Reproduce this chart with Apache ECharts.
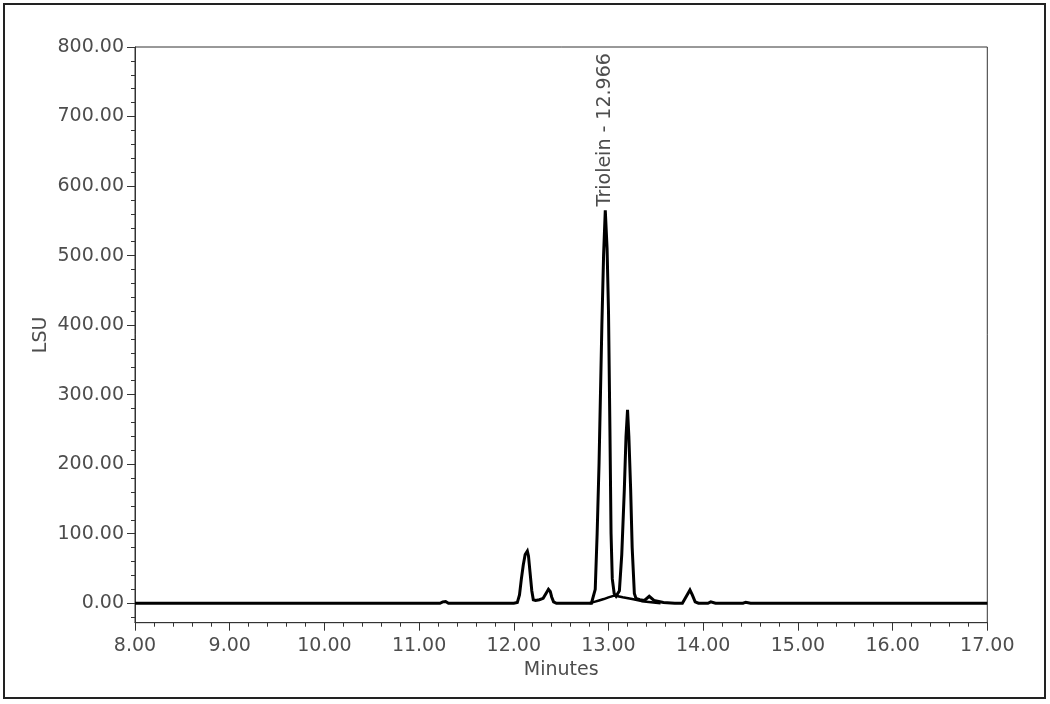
<!DOCTYPE html>
<html>
<head>
<meta charset="utf-8">
<title>Chromatogram</title>
<script src="https://cdn.jsdelivr.net/npm/echarts@6/dist/echarts.min.js"></script>
<style>
  html, body { margin: 0; padding: 0; background: #fff; }
  #chart { width: 1050px; height: 704px; }
</style>
</head>
<body>
<div id="chart"></div>
<script>
// detector trace (minutes / LSU)
var minutes = [
  8.00, 11.22, 11.25, 11.28, 11.31, 12.00, 12.037, 12.06, 12.08, 12.10, 12.12, 12.143,
  12.155, 12.171, 12.19, 12.206, 12.23, 12.27, 12.31, 12.34, 12.366, 12.385, 12.40,
  12.42, 12.45, 12.82, 12.84, 12.86, 12.88, 12.90, 12.915, 12.93, 12.948, 12.966,
  12.985, 13.00, 13.015, 13.027, 13.04, 13.06, 13.08, 13.10, 13.115, 13.14, 13.167,
  13.185, 13.201, 13.215, 13.234, 13.25, 13.273, 13.29, 13.33, 13.38, 13.40, 13.43,
  13.45, 13.48, 13.50, 13.58, 13.70, 13.78, 13.80, 13.83, 13.86, 13.885, 13.915,
  13.95, 14.05, 14.08, 14.10, 14.13, 14.42, 14.45, 14.47, 14.50, 17.00
];
var lsu = [
  0, 0, 2, 2.5, 0, 0, 1, 12, 35, 55, 70, 75,
  68, 45, 18, 5, 4, 5, 7, 14, 20, 17, 9,
  2, 0, 0, 2, 20, 100, 200, 300, 400, 500, 565,
  510, 420, 250, 100, 35, 14, 10, 12, 18, 70, 163,
  240, 278, 240, 163, 80, 14, 7, 5, 4, 5, 10,
  10, 4, 3, 1, 0, 0, 2, 12, 19, 12, 2,
  0, 0, 2, 3, 0, 0, 1.5, 2, 0, 0
];
// broad hump under the main peaks
var humpMinutes = [12.80, 12.85, 12.90, 12.95, 13.00, 13.06, 13.10, 13.15, 13.25, 13.35, 13.45, 13.55];
var humpLsu     = [0, 2, 4, 6, 8.5, 11, 10, 8.5, 6, 3, 1.5, 0];

var peakName = 'Triolein';
var peakTime = 12.966;
var peakHeight = 565;

var yMin = -28, yMax = 800, yStep = 100, yMinorStep = 20;
var xMin = 8, xMax = 17, xStep = 1;

function pairs(xs, ys) {
  return xs.map(function (x, i) { return [x, ys[i]]; });
}

var plotLeft = 135, plotTop = 47, plotRight = 987.3, plotBottom = 622.7;
var pxPerUnit = (plotBottom - plotTop) / (yMax - yMin);
var font = 'DejaVu Sans';
var fontSize = 19;
var textColor = '#4d4d4d';
var lineColor = '#333';

var chart = echarts.init(document.getElementById('chart'), null, { renderer: 'canvas' });

var hiddenX = function (g) {
  return { gridIndex: g, type: 'value', min: xMin, max: xMax, show: false };
};

chart.setOption({
  backgroundColor: '#fff',
  animation: false,
  graphic: [{
    type: 'rect',
    shape: { x: 4, y: 4, width: 1041, height: 694 },
    style: { fill: 'none', stroke: '#222', lineWidth: 2 },
    silent: true
  }],
  grid: [
    // data area, with box
    { left: plotLeft, top: plotTop, width: plotRight - plotLeft, height: plotBottom - plotTop,
      show: true, borderColor: lineColor, borderWidth: 1, backgroundColor: 'transparent' },
    // major y ticks, 0..800
    { left: plotLeft, top: plotTop, width: plotRight - plotLeft, height: (yMax - 0) * pxPerUnit },
    // minor y ticks, -20..800
    { left: plotLeft, top: plotTop, width: plotRight - plotLeft, height: (yMax + yMinorStep) * pxPerUnit }
  ],
  xAxis: [
    {
      gridIndex: 0, type: 'value', min: xMin, max: xMax, interval: xStep,
      name: 'Minutes', nameLocation: 'middle', nameGap: 38,
      nameTextStyle: { fontFamily: font, fontSize: fontSize, color: textColor },
      axisLine: { show: true, onZero: false, lineStyle: { color: lineColor, width: 1 } },
      axisTick: { show: true, length: 8, lineStyle: { color: lineColor } },
      minorTick: { show: true, splitNumber: 5, length: 4, lineStyle: { color: lineColor } },
      splitLine: { show: false },
      axisLabel: { margin: 14, fontFamily: font, fontSize: fontSize, color: textColor,
        formatter: function (v) { return v.toFixed(2); } }
    },
    hiddenX(1),
    hiddenX(2)
  ],
  yAxis: [
    {
      gridIndex: 0, type: 'value', min: yMin, max: yMax,
      name: 'LSU', nameLocation: 'middle', nameGap: 84, nameRotate: 90,
      nameTextStyle: { fontFamily: font, fontSize: fontSize, color: textColor },
      axisLine: { show: true, onZero: false, lineStyle: { color: lineColor, width: 1 } },
      axisTick: { show: false },
      axisLabel: { show: false },
      splitLine: { show: false }
    },
    {
      gridIndex: 1, type: 'value', min: 0, max: yMax, interval: yStep,
      axisLine: { show: false },
      axisTick: { show: true, length: 8, lineStyle: { color: lineColor } },
      splitLine: { show: false },
      axisLabel: { margin: 11, fontFamily: font, fontSize: fontSize, color: textColor,
        formatter: function (v) { return v.toFixed(2); } }
    },
    {
      gridIndex: 2, type: 'value', min: -yMinorStep, max: yMax, interval: yMinorStep,
      axisLine: { show: false },
      axisTick: { show: true, length: 4, lineStyle: { color: lineColor } },
      splitLine: { show: false },
      axisLabel: { show: false }
    }
  ],
  series: [
    {
      type: 'line',
      xAxisIndex: 0, yAxisIndex: 0,
      data: pairs(minutes, lsu),
      showSymbol: false,
      symbol: 'none',
      lineStyle: { color: '#000', width: 3, join: 'miter' },
      markPoint: {
        symbol: 'circle', symbolSize: 0,
        data: [{ coord: [peakTime, peakHeight] }],
        label: {
          show: true, position: 'top', distance: 4, rotate: 90,
          align: 'left', verticalAlign: 'middle',
          fontFamily: font, fontSize: fontSize, color: textColor,
          formatter: function () { return peakName + ' - ' + peakTime.toFixed(3); }
        }
      }
    },
    {
      type: 'line',
      xAxisIndex: 0, yAxisIndex: 0,
      data: pairs(humpMinutes, humpLsu),
      showSymbol: false,
      symbol: 'none',
      lineStyle: { color: '#000', width: 2.5 }
    }
  ]
});
</script>
</body>
</html>
